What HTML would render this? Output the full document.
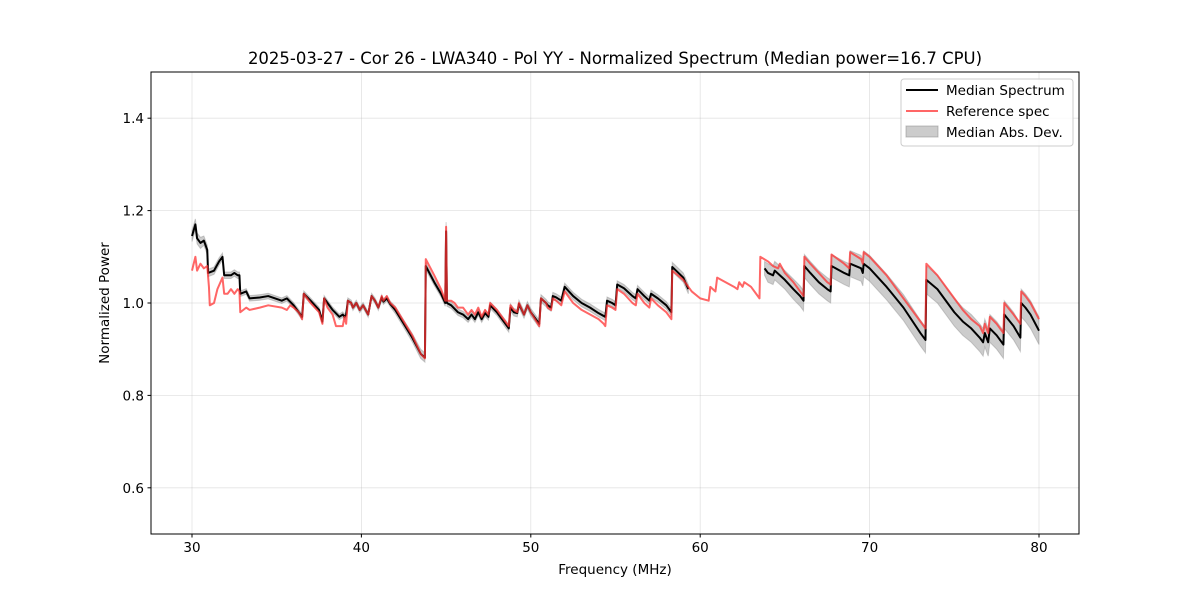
<!DOCTYPE html>
<html><head><meta charset="utf-8"><style>
body{margin:0;background:#fff}
svg{font-family:"DejaVu Sans","Liberation Sans",sans-serif}
</style></head><body>
<svg id="c" width="1200" height="600" xmlns="http://www.w3.org/2000/svg">
<rect width="1200" height="600" fill="#fff"/>
<text x="615" y="64" text-anchor="middle" font-size="16.5">2025-03-27 - Cor 26 - LWA340 - Pol YY - Normalized Spectrum (Median power=16.7 CPU)</text>
<g id="grid"></g>
<g id="plot"></g>
<rect x="151" y="72" width="928" height="462" fill="none" stroke="#000" stroke-width="1"/>
<g id="ticks"></g>
<text x="615" y="574" text-anchor="middle" font-size="13.5">Frequency (MHz)</text>
<text transform="translate(109,303) rotate(-90)" text-anchor="middle" font-size="13.5">Normalized Power</text>
<g>
<rect x="901" y="79" width="172" height="67" rx="3" fill="#fff" fill-opacity="0.8" stroke="#ccc"/>
<g><line x1="906" y1="90" x2="938" y2="90" stroke="#000" stroke-width="2"/><text x="946" y="95" font-size="13.5">Median Spectrum</text></g>
<g><line x1="906" y1="111" x2="938" y2="111" stroke="#ff5555" stroke-opacity="0.9" stroke-width="2"/><text x="946" y="116" font-size="13.5">Reference spec</text></g>
<g><rect x="906" y="126" width="32" height="11" fill="#000" fill-opacity="0.2" stroke="#888" stroke-opacity="0.5"/><text x="946" y="137" font-size="13.5">Median Abs. Dev.</text></g>
</g>
</svg>
<script>
const xTicks=[30,40,50,60,70,80];
const yTicks=[0.6,0.8,1.0,1.2,1.4];
const yTickLabels=["0.6","0.8","1.0","1.2","1.4"];
// reference spectrum [freq, value]
const refSpec=[[30.0,1.07],[30.2,1.10],[30.3,1.07],[30.5,1.085],[30.7,1.075],[30.9,1.08],[31.0,1.035],[31.05,0.995],[31.3,1.0],[31.5,1.03],[31.8,1.055],[31.9,1.02],[32.1,1.02],[32.3,1.03],[32.5,1.02],[32.7,1.03],[32.8,1.025],[32.85,0.98],[33.2,0.99],[33.4,0.985],[34.0,0.99],[34.5,0.995],[35.3,0.99],[35.6,0.985],[35.8,0.995],[36.0,0.99],[36.3,0.98],[36.5,0.965],[36.6,1.02],[37.0,1.0],[37.5,0.98],[37.7,0.955],[37.8,1.01],[38.0,0.99],[38.3,0.975],[38.5,0.95],[38.9,0.95],[39.0,0.97],[39.1,0.955],[39.2,1.005],[39.4,1.0],[39.5,0.99],[39.7,1.0],[39.9,0.985],[40.1,0.995],[40.4,0.975],[40.6,1.015],[40.8,1.005],[41.0,0.99],[41.2,1.015],[41.3,1.005],[41.5,1.015],[41.7,1.0],[42.0,0.99],[42.5,0.96],[43.0,0.93],[43.5,0.89],[43.75,0.88],[43.8,1.095],[44.3,1.06],[44.7,1.03],[44.95,1.005],[45.0,1.165],[45.05,1.005],[45.3,1.005],[45.5,1.0],[45.7,0.99],[46.0,0.99],[46.3,0.975],[46.5,0.985],[46.7,0.975],[46.9,0.99],[47.1,0.97],[47.3,0.985],[47.5,0.975],[47.6,1.0],[48.0,0.985],[48.5,0.96],[48.7,0.95],[48.8,0.995],[49.0,0.985],[49.2,0.98],[49.3,1.0],[49.6,0.975],[49.8,0.995],[50.0,0.98],[50.5,0.95],[50.6,1.01],[50.9,1.0],[51.0,0.99],[51.2,0.985],[51.3,1.01],[51.5,1.005],[51.8,0.995],[52.0,1.025],[52.5,1.0],[53.0,0.985],[53.5,0.975],[54.0,0.965],[54.3,0.955],[54.4,0.95],[54.5,0.995],[54.8,0.99],[55.0,0.985],[55.1,1.03],[55.5,1.02],[56.0,1.0],[56.2,0.995],[56.3,1.02],[56.7,1.0],[57.0,0.99],[57.1,1.01],[57.5,0.995],[58.0,0.98],[58.3,0.965],[58.35,1.07],[59.0,1.05],[59.5,1.025],[60.0,1.01],[60.5,1.005],[60.6,1.035],[60.9,1.025],[61.0,1.055],[61.5,1.045],[62.0,1.035],[62.2,1.03],[62.3,1.045],[62.5,1.035],[62.6,1.045],[63.0,1.035],[63.3,1.02],[63.5,1.01],[63.55,1.1],[64.0,1.09],[64.3,1.08],[64.6,1.075],[64.7,1.085],[65.0,1.065],[65.5,1.045],[65.9,1.025],[66.1,1.015],[66.15,1.10],[66.5,1.085],[67.0,1.065],[67.5,1.045],[67.7,1.04],[67.75,1.105],[68.5,1.085],[68.8,1.075],[68.85,1.11],[69.5,1.095],[69.6,1.085],[69.65,1.11],[70.0,1.10],[71.0,1.06],[72.0,1.01],[73.0,0.96],[73.3,0.945],[73.35,1.085],[74.0,1.06],[75.0,1.01],[75.5,0.985],[76.0,0.965],[76.5,0.95],[76.7,0.935],[76.8,0.955],[76.9,0.945],[77.0,0.935],[77.1,0.97],[77.5,0.955],[77.9,0.935],[77.95,1.0],[78.5,0.975],[78.9,0.955],[78.95,1.025],[79.2,1.015],[79.5,1.0],[80.0,0.965]];
// median spectrum, segment 1 [freq, value, mad]
const medianSeg1=[[30.0,1.145,0.012],[30.2,1.17,0.012],[30.3,1.14,0.012],[30.5,1.13,0.012],[30.7,1.135,0.01],[30.9,1.115,0.01],[30.95,1.065,0.008],[31.3,1.07,0.008],[31.6,1.09,0.008],[31.8,1.10,0.008],[31.9,1.06,0.007],[32.3,1.06,0.007],[32.5,1.065,0.007],[32.7,1.06,0.007],[32.8,1.06,0.007],[32.85,1.02,0.006],[33.2,1.025,0.006],[33.4,1.01,0.006],[34.0,1.012,0.006],[34.5,1.015,0.006],[35.3,1.005,0.006],[35.6,1.01,0.006],[36.0,0.995,0.006],[36.5,0.97,0.006],[36.6,1.02,0.006],[37.0,1.005,0.006],[37.5,0.985,0.006],[37.7,0.96,0.006],[37.8,1.01,0.006],[38.3,0.985,0.006],[38.7,0.97,0.006],[38.9,0.975,0.006],[39.0,0.97,0.006],[39.1,0.975,0.006],[39.2,1.005,0.006],[39.4,1.0,0.006],[39.5,0.99,0.006],[39.7,1.0,0.006],[39.9,0.985,0.006],[40.1,0.995,0.006],[40.4,0.975,0.006],[40.6,1.015,0.006],[40.8,1.005,0.006],[41.0,0.99,0.006],[41.2,1.012,0.006],[41.3,1.003,0.006],[41.5,1.01,0.006],[41.7,0.998,0.006],[42.0,0.985,0.008],[42.5,0.955,0.008],[43.0,0.925,0.009],[43.5,0.89,0.01],[43.75,0.882,0.01],[43.8,1.08,0.008],[44.3,1.045,0.007],[44.7,1.02,0.007],[44.95,1.0,0.007],[45.0,1.155,0.02],[45.05,1.0,0.007],[45.3,0.995,0.007],[45.7,0.98,0.007],[46.0,0.975,0.007],[46.3,0.965,0.007],[46.5,0.975,0.007],[46.7,0.965,0.007],[46.9,0.98,0.007],[47.1,0.965,0.007],[47.3,0.978,0.007],[47.5,0.97,0.007],[47.6,0.995,0.007],[48.0,0.98,0.007],[48.5,0.955,0.008],[48.7,0.945,0.008],[48.8,0.99,0.008],[49.0,0.98,0.008],[49.2,0.978,0.008],[49.3,0.998,0.008],[49.6,0.975,0.008],[49.8,0.995,0.008],[50.0,0.98,0.008],[50.5,0.955,0.008],[50.6,1.01,0.008],[50.9,1.0,0.008],[51.0,0.995,0.008],[51.2,0.99,0.008],[51.3,1.015,0.008],[51.5,1.012,0.008],[51.8,1.005,0.008],[52.0,1.035,0.008],[52.5,1.015,0.008],[53.0,1.0,0.008],[53.5,0.99,0.008],[54.0,0.978,0.008],[54.3,0.972,0.008],[54.4,0.97,0.008],[54.5,1.005,0.008],[54.8,1.0,0.008],[55.0,0.995,0.008],[55.1,1.04,0.008],[55.5,1.032,0.008],[56.0,1.015,0.008],[56.2,1.01,0.008],[56.3,1.03,0.008],[56.7,1.015,0.008],[57.0,1.005,0.008],[57.1,1.02,0.008],[57.5,1.01,0.008],[58.0,0.995,0.008],[58.3,0.98,0.008],[58.35,1.078,0.01],[59.0,1.055,0.01],[59.3,1.03,0.01]];
// median spectrum, segment 2 [freq, value, mad]
const medianSeg2=[[63.8,1.075,0.015],[64.0,1.065,0.02],[64.3,1.06,0.02],[64.4,1.07,0.02],[65.0,1.05,0.02],[65.5,1.03,0.022],[65.9,1.015,0.022],[66.1,1.005,0.022],[66.15,1.08,0.025],[66.5,1.065,0.025],[67.0,1.045,0.025],[67.5,1.03,0.025],[67.7,1.025,0.025],[67.75,1.08,0.025],[68.5,1.065,0.025],[68.8,1.06,0.025],[68.85,1.085,0.028],[69.5,1.075,0.028],[69.6,1.065,0.028],[69.65,1.085,0.028],[70.0,1.075,0.028],[71.0,1.035,0.028],[72.0,0.99,0.028],[73.0,0.935,0.028],[73.3,0.92,0.028],[73.35,1.05,0.03],[74.0,1.03,0.03],[75.0,0.98,0.03],[75.5,0.96,0.03],[76.0,0.945,0.03],[76.5,0.925,0.03],[76.7,0.915,0.03],[76.8,0.935,0.03],[77.0,0.915,0.03],[77.1,0.945,0.03],[77.5,0.93,0.03],[77.9,0.91,0.03],[77.95,0.975,0.03],[78.5,0.95,0.03],[78.9,0.925,0.03],[78.95,1.0,0.03],[79.2,0.99,0.03],[79.5,0.975,0.03],[80.0,0.94,0.03]];

const X0=151,X1=1079,Y0=72,Y1=534;
const xMin=27.6,xMax=82.4,yMin=0.5,yMax=1.5;
const sx=f=>192+(f-30)*(1039-192)/50;
const sy=v=>Y1-(v-yMin)/(yMax-yMin)*(Y1-Y0);
const NS="http://www.w3.org/2000/svg";
function mk(tag,attrs,parent){const e=document.createElementNS(NS,tag);for(const k in attrs)e.setAttribute(k,attrs[k]);parent.appendChild(e);return e;}
const grid=document.getElementById('grid'),plot=document.getElementById('plot'),ticks=document.getElementById('ticks');
xTicks.forEach(t=>{const x=sx(t);
 const g=mk('line',{x1:x,x2:x,y1:Y0,y2:Y1,stroke:'#b0b0b0','stroke-opacity':0.35,'stroke-width':0.8},grid);
 
 
 const tk=mk('line',{x1:x,x2:x,y1:Y1,y2:Y1+3.5,stroke:'#000'},ticks);
 
 
 const tl=mk('text',{x:x,y:Y1+18,'text-anchor':'middle','font-size':13.5},ticks);tl.textContent=String(t);
 
 
});
yTicks.forEach((t,i)=>{const y=sy(t);
 const g=mk('line',{x1:X0,x2:X1,y1:y,y2:y,stroke:'#b0b0b0','stroke-opacity':0.35,'stroke-width':0.8},grid);
 
 
 const tk=mk('line',{x1:X0-3.5,x2:X0,y1:y,y2:y,stroke:'#000'},ticks);
 
 
 const tl=mk('text',{x:X0-7,y:y+5,'text-anchor':'end','font-size':13.5},ticks);tl.textContent=yTickLabels[i];
 
 
});
function band(seg){
 let d='M'+seg.map(p=>sx(p[0])+','+sy(p[1]+p[2])).join('L');
 d+='L'+seg.slice().reverse().map(p=>sx(p[0])+','+sy(p[1]-p[2])).join('L')+'Z';
 const e=mk('path',{d:d,fill:'#000','fill-opacity':0.2,stroke:'#888','stroke-opacity':0.4,'stroke-width':1},plot);
 
 
}
function line(pts,color,op,name){
 const e=mk('polyline',{points:pts.map(p=>sx(p[0])+','+sy(p[1])).join(' '),fill:'none',stroke:color,'stroke-opacity':op,'stroke-width':2,'stroke-linejoin':'round'},plot);
 
 
}
band(medianSeg1);band(medianSeg2);
line(medianSeg1,'#000',1,'median-line-segment');
line(medianSeg2,'#000',1,'median-line-segment');
line(refSpec,'#ff3333',0.75,'reference-line');
</script>
</body></html>
